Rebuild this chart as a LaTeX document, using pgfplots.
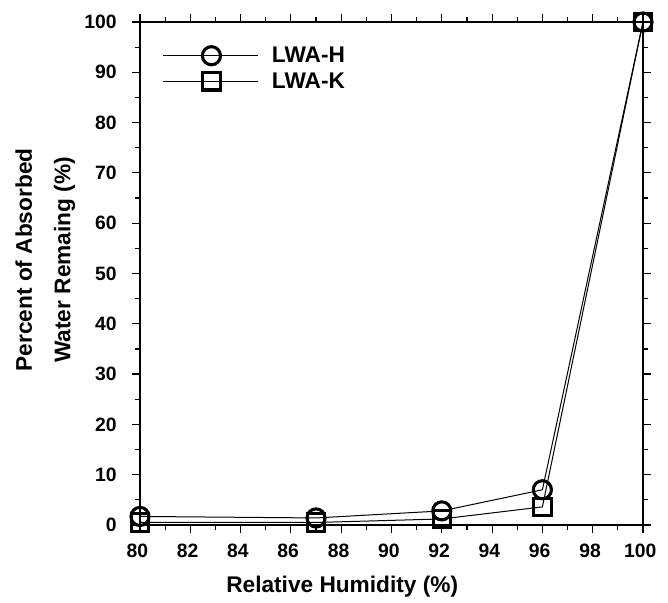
\documentclass[border=0pt]{standalone}
\usepackage{fontspec}
\setmainfont{Liberation Sans}
\usepackage{pgfplots}
\pgfplotsset{compat=1.18}
\begin{document}
\begin{tikzpicture}[font=\bfseries]
\begin{axis}[
  at={(0,0)}, anchor=south west,
  scale only axis,
  width=377.25pt, height=377.25pt,
  xmin=80, xmax=100, ymin=0, ymax=100,
  xtick={80,82,...,100}, minor x tick num=1,
  ytick={0,10,...,100}, minor y tick num=1,
  tick align=outside,
  xtick pos=both, ytick pos=both,
  xticklabel pos=bottom, yticklabel pos=left,
  major tick length=6pt, minor tick length=4pt,
  every tick/.style={black, line width=0.9pt},
  axis line style={line width=1.1pt},
  /pgf/number format/assume math mode=true,
  ticklabel style={font=\fontsize{14.5}{16}\selectfont\bfseries},
  xticklabel style={yshift=-5pt, xshift=-2pt},
  yticklabel style={xshift=-8pt},
  xlabel={Relative Humidity (\%)},
  ylabel={Percent of Absorbed\\Water Remaing (\%)},
  label style={font=\fontsize{17}{29}\selectfont\bfseries, align=center},
  xlabel style={at={(axis description cs:0.402,0)}, anchor=base, yshift=-51pt},
  ylabel style={at={(axis description cs:0,0.527)}, anchor=center, yshift=71pt},
  clip=false,
  legend style={draw=none, fill=none, at={(axis description cs:0,1)}, anchor=north west,
    xshift=17pt, yshift=-16.5pt, inner sep=0pt,
    font=\fontsize{17}{19}\selectfont\bfseries, row sep=2pt},
  legend cell align=left,
  legend image code/.code={
    \draw[line width=0.75pt] (0pt,0pt) -- (71pt,0pt);
    \draw[#1, line width=2.3pt] plot coordinates {(36pt,0pt)};
    \path (79pt,0pt);
  },
]
\addplot[black, line width=0.75pt, mark=o, mark size=6.8pt, mark options={line width=2.3pt, fill=none}]
  coordinates {(80,1.7) (87,1.4) (92,2.8) (96,7.0) (100,100)};
\addlegendentry{LWA-H}
\addplot[black, line width=0.75pt, mark=square, mark size=6.5pt, mark options={line width=2.3pt, fill=none}]
  coordinates {(80,0.5) (87,0.5) (92,1.2) (96,3.6) (100,100)};
\addlegendentry{LWA-K}
\end{axis}
\path[use as bounding box] (-105pt,-55.5pt) rectangle (396pt,393.75pt);
\end{tikzpicture}
\end{document}
